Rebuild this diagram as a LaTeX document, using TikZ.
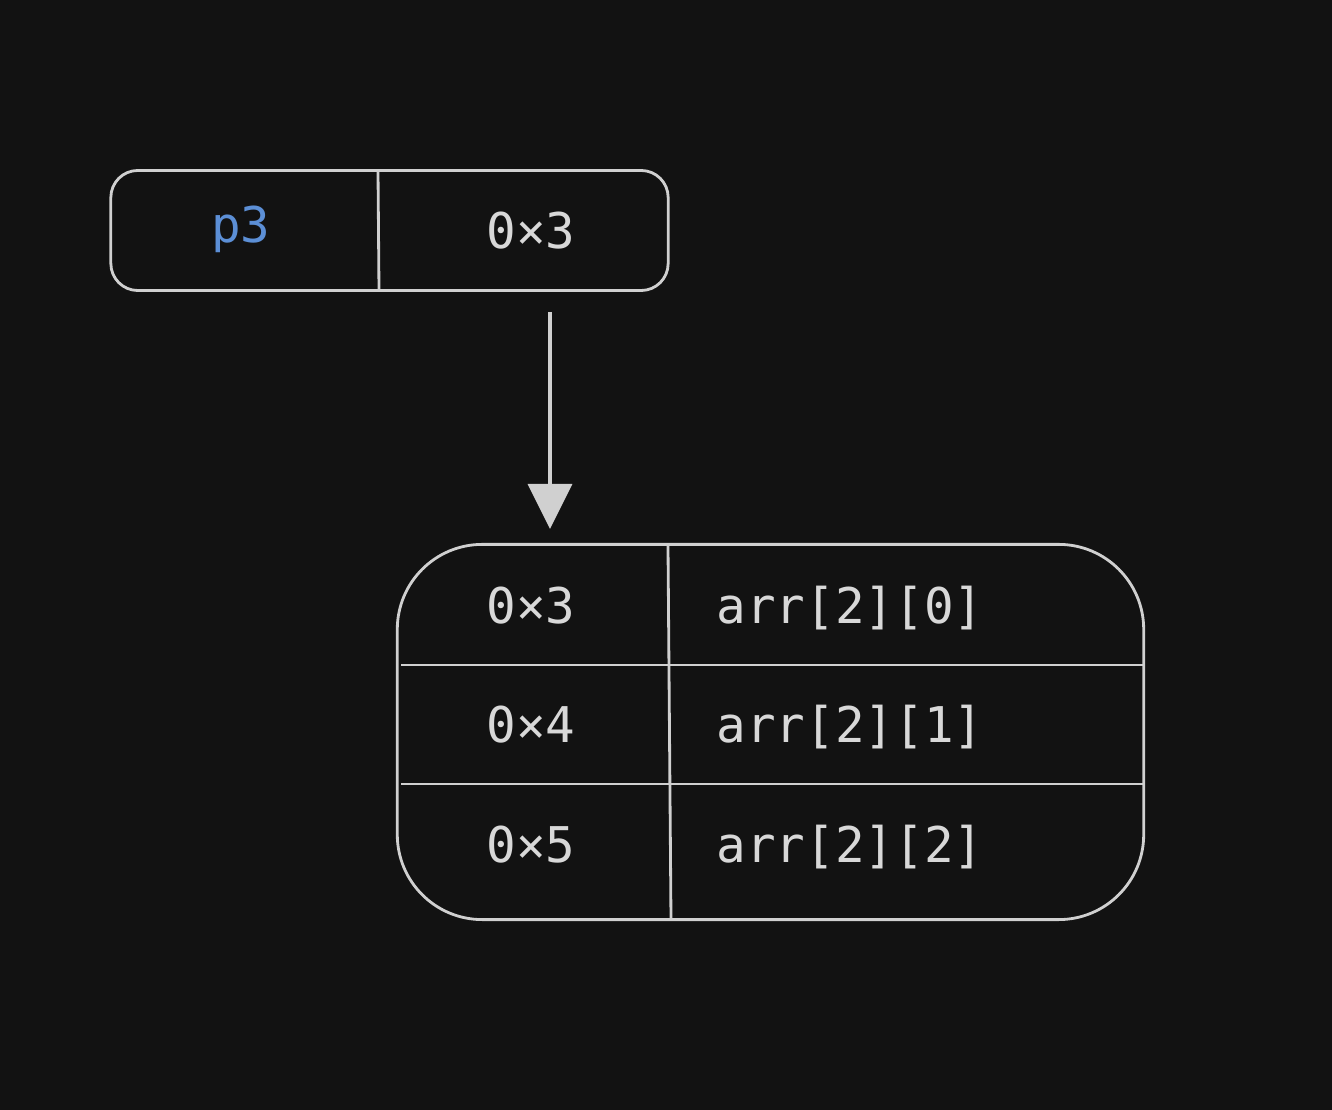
\documentclass[tikz,border=0pt]{standalone}
\usepackage{fontspec}
\setmonofont{DejaVu Sans Mono}
\usepackage{tikz}
\usetikzlibrary{positioning, calc, arrows.meta}
\definecolor{bgDark}{RGB}{18,18,18}
\definecolor{lineGray}{RGB}{208,208,208}
\definecolor{textGray}{RGB}{216,216,216}
\definecolor{ptrBlue}{RGB}{92,143,214}

\begin{document}
\begin{tikzpicture}[x=0.01cm, y=-0.01cm,
    cell/.style={font=\ttfamily\fontsize{14}{16}\selectfont, color=textGray, inner sep=0pt},
    outline/.style={draw=lineGray, line width=0.8pt},
    ptrarrow/.style={draw=lineGray, line width=0.9pt, -{Triangle[width=0.44cm, length=0.45cm]}}]
        \useasboundingbox[fill=bgDark] (0,0) rectangle (1332,1110);
        % pointer box
        \node[outline, rounded corners=0.27cm, minimum width=5.57cm, minimum height=1.2cm] (ptrbox) at (389.5,230.5) {};
        \draw[outline] (378,171) -- (379,290);
        \node[cell, color=ptrBlue, anchor=base] (ptrname) at (241,243) {p3};
        \node[cell, anchor=base] (ptrval) at (531,249) {0×3};
        % array row
        \node[outline, rounded corners=0.85cm, minimum width=7.46cm, minimum height=3.75cm] (table) at (770.5,732) {};
        \draw[outline] (668,546) -- (671,919);
        \draw[outline] (401,665) -- (1143,665);
        \draw[outline] (401,784) -- (1143,784);
        \foreach \i/\y in {0/624, 1/743, 2/863}{
          \pgfmathtruncatemacro{\a}{\i+3}
          \node[cell, anchor=base] (addr\i) at (531,\y) {0×\a};
          \node[cell, anchor=base west] (elem\i) at (716,\y) {arr[2][\i]};
        }
        % pointer arrow
        \coordinate (aim) at (550,0);
        \draw[ptrarrow, shorten <=0.2cm, shorten >=0.14cm] (ptrbox.south -| aim) -- (table.north -| aim);
      \end{tikzpicture}
\end{document}
